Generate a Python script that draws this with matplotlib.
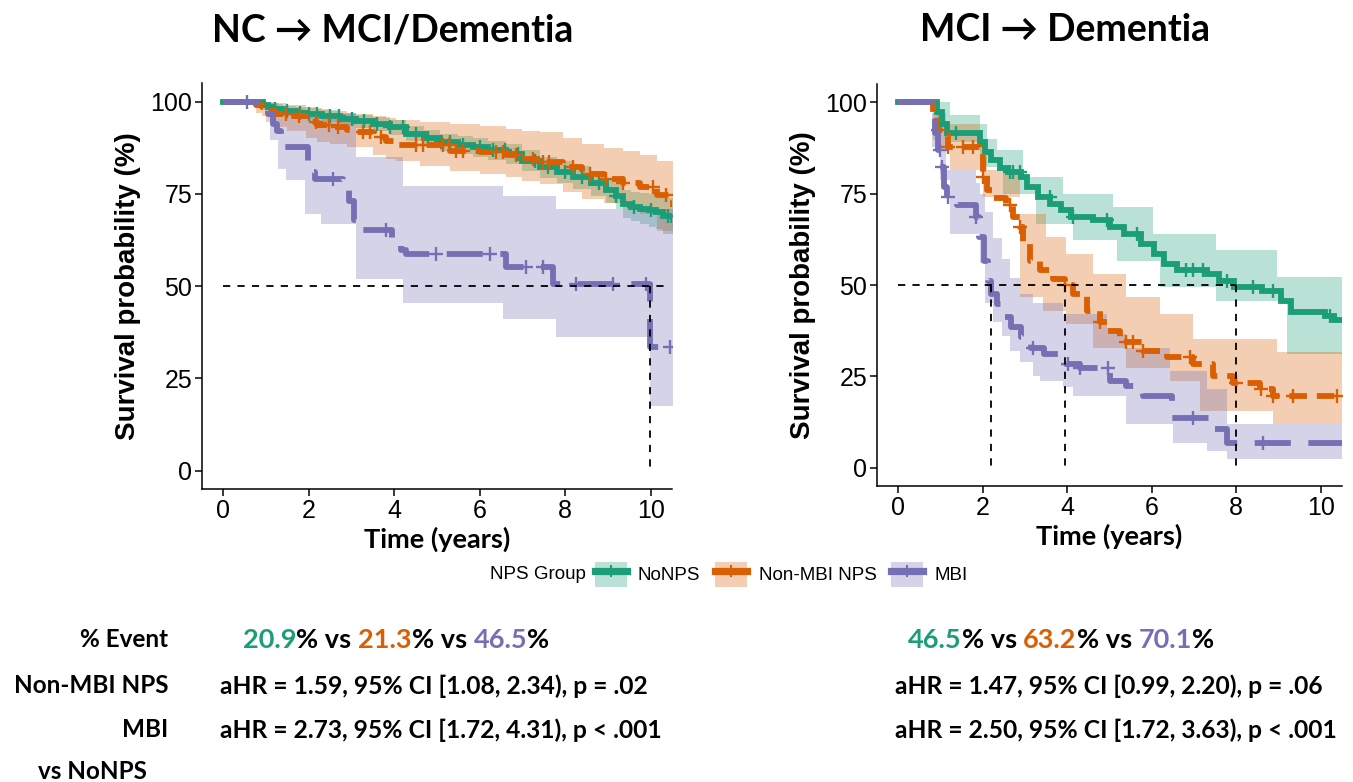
import matplotlib
matplotlib.use('Agg')
import matplotlib.pyplot as plt
from matplotlib.lines import Line2D
from matplotlib.patches import Patch
import numpy as np

GREEN, ORANGE, PURPLE = '#1B9E77', '#D95F02', '#7570B3'
groups = ['NoNPS', 'Non-MBI NPS', 'MBI']

# ---------------- NC -> MCI/Dementia ----------------
nc_nonps_t = [0, 0.92, 1.05, 1.16, 1.4, 1.7, 1.94, 2.3, 2.72, 3.1, 3.5, 3.9, 4.28, 4.7, 5.06,
              5.5, 5.84, 6.2, 6.62, 7.0, 7.4, 7.8, 8.18, 8.6, 8.96, 9.2, 9.35, 9.55, 9.74,
              9.95, 10.13, 10.3, 10.52]
nc_nonps_s = [100, 99, 98.5, 98, 97.5, 97, 96.7, 96, 95.3, 94.6, 94, 93, 91.3, 90, 89,
              88.3, 87.6, 86.8, 85.8, 84, 82.2, 81, 79.5, 77.8, 75.9, 74.5, 72.3, 71.5, 71,
              70.5, 70, 69, 67.8]
nc_nonps_lo = [100, 97.8, 97.2, 96.7, 96.1, 95.6, 95.2, 94.4, 93.6, 92.8, 92.1, 91, 89.2, 87.8, 86.7,
               85.9, 85.1, 84.2, 83.1, 81.2, 79.3, 78, 76.4, 74.5, 72.4, 70.9, 68.5, 67.5, 66.8,
               66.1, 65.4, 64, 62.5]
nc_nonps_hi = [100, 100, 99.6, 99.3, 98.9, 98.4, 98.2, 97.6, 97, 96.4, 95.9, 95, 93.4, 92.2, 91.3,
               90.7, 90.1, 89.4, 88.5, 86.8, 85.1, 84, 82.6, 81.1, 79.4, 78.1, 76.1, 75.5, 75.2,
               74.9, 74.6, 73.9, 73]
nc_nonps_cens = [1.2, 1.5, 1.8, 2.0, 2.2, 2.5, 2.7, 3.0, 3.3, 3.6, 3.9, 4.2, 4.5, 4.8, 5.1, 5.3,
                 5.6, 6.0, 6.3, 6.6, 6.9, 7.3, 7.6, 8.0, 8.4, 8.8, 9.2, 9.6, 10.0, 10.4]

nc_nmbi_t = [0, 0.77, 0.9, 1.0, 1.2, 1.5, 1.94, 2.2, 2.5, 2.9, 3.1, 3.5, 3.8, 4.05, 4.6, 5.3,
             6.0, 6.62, 7.0, 7.4, 7.95, 8.4, 8.9, 9.35, 9.74, 10.15, 10.52]
nc_nmbi_s = [100, 99, 98.5, 97.5, 96.7, 96.2, 94.4, 93.6, 93, 92.2, 91.7, 90.4, 89.2, 88.2, 88.1,
             86.7, 86.3, 85.4, 84.5, 83.6, 82.2, 80.4, 79.1, 78, 76.8, 74.6, 71.4]
nc_nmbi_lo = [100, 97, 96, 94.5, 93, 92, 90, 89, 88.5, 87.8, 87.6, 85.5, 84.5, 84, 82.5, 81.3,
              80.5, 79.5, 78.5, 77.7, 75.5, 73.7, 72.5, 71, 69.5, 65, 58.8]
nc_nmbi_hi = [100, 100, 100, 100, 99.5, 99, 98.5, 98, 97.5, 97, 96.7, 96, 95.5, 95, 94.5, 94,
              93.5, 92.5, 92, 91.7, 90, 88.5, 87.5, 86.7, 85.5, 84, 84]
nc_nmbi_cens = [1.47, 1.78, 2.17, 2.48, 2.68, 3.26, 3.42, 3.69, 4.51, 4.67, 5.14, 5.29, 5.45,
                5.6, 6.39, 6.54, 6.85, 7.24, 7.48, 7.63, 8.18, 8.57, 8.96, 9.35, 10.05, 10.37]

nc_mbi_t = [0, 1.05, 1.15, 1.25, 1.35, 1.98, 2.05, 2.15, 2.8, 2.95, 3.05, 3.1, 3.95, 4.05,
            4.15, 4.28, 6.62, 7.71, 9.98, 10.52]
nc_mbi_s = [100, 96.5, 94, 92, 87.6, 83, 81, 79, 76, 73, 68, 65.1, 62.4, 61, 59.8, 58.8,
            55.2, 50.5, 33.5, 33.5]
nc_mbi_ci_t = [0, 1.08, 1.27, 1.47, 1.9, 2.29, 3.1, 4.2, 6.54, 7.79, 9.98, 10.52]
nc_mbi_lo = [100, 89.5, 81.8, 78.8, 69.6, 66.7, 52, 45.5, 41.2, 36.1, 17.5, 17.5]
nc_mbi_hi = [100, 99.5, 98.5, 98, 97, 96.5, 85, 77, 74.3, 71, 71, 71]
nc_mbi_cens = [0.55, 2.56, 3.81, 4.98, 6.23, 7.09, 7.48, 8.26, 9.12, 9.9, 10.45]

nc_medians = [9.98]

# ---------------- MCI -> Dementia ----------------
mci_nonps_t = [0, 0.91, 1.03, 1.15, 1.93, 2.05, 2.2, 2.4, 2.6, 2.9, 3.05, 3.3, 3.6, 3.85, 4.1,
               4.6, 5.0, 5.35, 5.75, 6.05, 6.3, 6.6, 7.3, 7.6, 7.95, 8.6, 9.05, 9.3, 10.1,
               10.3, 10.49]
mci_nonps_s = [100, 97.4, 94.2, 91.5, 89.2, 86.5, 84.2, 81.9, 81, 79.6, 76.9, 74.1, 72.3, 70.4,
               68.6, 67.7, 65.9, 64, 61.3, 58.6, 55.8, 54, 53.1, 51.2, 49.4, 48.5, 45.7, 42.5,
               41.6, 40.3, 40.3]
mci_nonps_ci_t = [0, 0.91, 1.22, 1.93, 2.1, 2.33, 2.48, 2.96, 3.27, 3.9, 4.14, 5.09, 5.17, 6.03,
                  6.19, 7.53, 8.95, 9.19, 10.49]
mci_nonps_hi = [100, 100, 96.5, 94, 90, 86.9, 86.9, 79.6, 79.6, 75, 75, 71.4, 71.4, 64, 64,
                59.5, 52.1, 52.1, 52.1]
mci_nonps_lo = [100, 93.3, 89.2, 82.3, 82.3, 82.3, 75, 75, 66.8, 66.8, 62.2, 62.2, 56.7, 56.7,
                49.4, 45.7, 45.7, 31.1, 31.1]
mci_nonps_cens = [1.38, 2.64, 2.72, 2.88, 3.59, 4.14, 4.93, 5.64, 6.82, 6.98, 7.22, 7.77, 8.4,
                  8.87, 10.21]

mci_nmbi_t = [0, 0.83, 0.91, 1.05, 1.18, 1.93, 2.0, 2.09, 2.25, 2.56, 2.72, 2.88, 2.96, 3.12,
              3.35, 3.67, 3.94, 4.14, 4.46, 4.77, 4.93, 5.24, 5.8, 6.35, 6.98, 7.45, 7.93,
              8.56, 8.87, 10.49]
mci_nmbi_s = [100, 97, 92.4, 91, 87.8, 85, 79.6, 75.9, 73.7, 71.8, 68.6, 65.9, 61.3, 56.7, 54,
              51.7, 49.9, 47.6, 43, 39.8, 37.5, 34.3, 32, 30.2, 28.4, 25.2, 23.3, 21.5, 19.7,
              19.7]
mci_nmbi_ci_t = [0, 0.83, 0.97, 1.22, 1.93, 2.01, 2.09, 2.88, 3.43, 3.5, 3.98, 4.61, 5.4, 6.19,
                 6.43, 6.98, 7.14, 8.87, 8.95, 10.49]
mci_nmbi_hi = [100, 100, 94.2, 94.2, 87.8, 87.8, 81.4, 69.5, 69.5, 63.1, 58.6, 53.1, 46.7, 42.1,
               42.1, 35.2, 35.2, 35.2, 31.6, 31.6]
mci_nmbi_lo = [100, 89.7, 87.8, 81.4, 81.4, 74.1, 74.1, 46.7, 43, 43, 39.3, 32.9, 27.4, 27.4,
               23.8, 23.8, 15.6, 11.9, 11.9, 11.9]
mci_nmbi_cens = [0.95, 1.18, 1.54, 1.77, 2.01, 2.64, 2.88, 3.94, 4.77, 5.4, 5.56, 5.8, 6.9, 8.0,
                 8.59, 8.87, 9.35, 10.37]

mci_mbi_t = [0, 0.79, 0.87, 0.95, 1.0, 1.08, 1.16, 1.3, 1.4, 1.85, 1.91, 2.02, 2.12, 2.19,
             2.35, 2.5, 2.68, 2.9, 3.15, 3.45, 3.9, 3.98, 4.3, 5.0, 5.4, 5.8, 6.47, 7.41,
             7.77, 10.49]
mci_mbi_s = [100, 97, 91.5, 86.9, 82.3, 76.9, 74.1, 72.7, 71.8, 68.6, 63.1, 56.7, 51.2, 47.6,
             44.8, 41.2, 38.4, 35.7, 32.9, 31.1, 30.2, 28.4, 27.4, 23.8, 22.4, 19.7, 13.7, 10.5,
             6.9, 6.9]
mci_mbi_ci_t = [0, 0.79, 0.99, 1.14, 1.22, 1.85, 1.93, 2.05, 2.25, 2.45, 2.65, 2.88, 3.2, 3.35,
                3.9, 4.14, 4.93, 5.4, 6.43, 6.51, 7.3, 7.77, 10.49]
mci_mbi_hi = [100, 97, 97, 81.4, 81.4, 78, 75, 70, 63, 57, 52, 47.6, 45, 45, 42, 42, 36.6, 32.9,
              26.5, 26.5, 21.5, 11.9, 11.9]
mci_mbi_lo = [100, 87.8, 78.7, 78.7, 64, 64, 56, 45, 40, 36, 32, 29, 25, 23.8, 22, 19.7, 19.7,
              11.9, 11.9, 6.9, 4.6, 2.3, 2.3]
mci_mbi_cens = [0.99, 1.03, 1.18, 1.85, 3.19, 4.02, 4.3, 4.97, 6.98, 8.64]

mci_medians = [2.19, 3.95, 7.98]

# ---------------- bottom statistics ----------------
nc_event = [20.9, 21.3, 46.5]
mci_event = [46.5, 63.2, 70.1]
nc_ahr = ['aHR = 1.59, 95% CI [1.08, 2.34), p = .02',
          'aHR = 2.73, 95% CI [1.72, 4.31), p < .001']
mci_ahr = ['aHR = 1.47, 95% CI [0.99, 2.20), p = .06',
           'aHR = 2.50, 95% CI [1.72, 3.63), p < .001']
row_labels = ['% Event', 'Non-MBI NPS', 'MBI']

COLORS = [GREEN, ORANGE, PURPLE]
STYLES = ['-', (0, (3.0, 1.7)), (0, (6.2, 3.0))]
LW = 4.2
ARIAL = ['Liberation Sans', 'DejaVu Sans']
CALIBRI = ['Lato', 'DejaVu Sans']


def surv_at(t, s, times):
    idx = np.searchsorted(t, times, side='right') - 1
    return np.asarray(s)[idx]


def style_axes(ax):
    ax.set_xlim(-0.5, 10.5)
    ax.set_ylim(-5, 105)
    ax.set_xticks([0, 2, 4, 6, 8, 10])
    ax.set_yticks([0, 25, 50, 75, 100])
    for sp in ['top', 'right']:
        ax.spines[sp].set_visible(False)
    for sp in ['left', 'bottom']:
        ax.spines[sp].set_linewidth(1.1)
    ax.tick_params(labelsize=18, length=5, width=1.1, colors='black', pad=2)
    for lab in ax.get_xticklabels() + ax.get_yticklabels():
        lab.set_family(ARIAL)
    ax.set_xlabel('Time (years)', fontsize=19.5, fontweight='bold', family=CALIBRI,
                  labelpad=3)
    ax.set_ylabel('Survival probability (%)', fontsize=20, fontweight='bold', family=ARIAL,
                  labelpad=7)


def draw_panel(ax, curves, medians, hline_end):
    for t, s, ci_t, lo, hi, cens, c, ls in curves:
        ax.fill_between(ci_t, lo, hi, step='post', color=c, alpha=0.3, lw=0)
    for t, s, ci_t, lo, hi, cens, c, ls in curves:
        ax.step(t, s, where='post', color=c, lw=LW, linestyle=ls, dash_capstyle='butt',
                solid_joinstyle='miter')
        ax.plot(cens, surv_at(t, s, cens), '+', color=c, ms=10, mew=1.7, ls='none')
    dash = dict(color='black', lw=1.3, linestyle=(0, (4, 4)))
    ax.plot([0, hline_end], [50, 50], **dash)
    for m in medians:
        ax.plot([m, m], [50, 0], **dash)
    style_axes(ax)


fig = plt.figure(figsize=(13.53, 7.82), dpi=100)
ax1 = fig.add_axes([0.1493, 0.3747, 0.3474, 0.519])
ax2 = fig.add_axes([0.6482, 0.3785, 0.3437, 0.514])

nc_curves = [
    (nc_nonps_t, nc_nonps_s, nc_nonps_t, nc_nonps_lo, nc_nonps_hi, nc_nonps_cens, GREEN, STYLES[0]),
    (nc_nmbi_t, nc_nmbi_s, nc_nmbi_t, nc_nmbi_lo, nc_nmbi_hi, nc_nmbi_cens, ORANGE, STYLES[1]),
    (nc_mbi_t, nc_mbi_s, nc_mbi_ci_t, nc_mbi_lo, nc_mbi_hi, nc_mbi_cens, PURPLE, STYLES[2]),
]
mci_curves = [
    (mci_nonps_t, mci_nonps_s, mci_nonps_ci_t, mci_nonps_lo, mci_nonps_hi, mci_nonps_cens, GREEN, STYLES[0]),
    (mci_nmbi_t, mci_nmbi_s, mci_nmbi_ci_t, mci_nmbi_lo, mci_nmbi_hi, mci_nmbi_cens, ORANGE, STYLES[1]),
    (mci_mbi_t, mci_mbi_s, mci_mbi_ci_t, mci_mbi_lo, mci_mbi_hi, mci_mbi_cens, PURPLE, STYLES[2]),
]
draw_panel(ax1, nc_curves, nc_medians, 10.45)
draw_panel(ax2, mci_curves, mci_medians, 8.0)

# titles
TFONT = dict(family=CALIBRI, fontweight='bold', fontsize=27)
fig.text(0.2905, 0.9616, 'NC \u2192 MCI/Dementia', ha='center', va='center', **TFONT)
fig.text(0.787, 0.9616, 'MCI \u2192 Dementia', ha='center', va='center', **TFONT)

# legend
handles = [(Patch(facecolor=c, alpha=0.3, edgecolor='none'),
            Line2D([], [], color=c, lw=LW + 1, marker='+', ms=8, mew=1.5))
           for c in COLORS]
fig.legend(handles, groups, ncol=3, loc='center', bbox_to_anchor=(0.5775, 0.2655),
           frameon=False, prop={'family': ARIAL, 'size': 13.5}, handlelength=1.7,
           handleheight=1.7, columnspacing=0.8, handletextpad=0.6)
fig.text(0.3622, 0.2655, 'NPS Group', fontsize=13.5, family=ARIAL, ha='left', va='center')

# bottom statistics
BFONT = dict(family=CALIBRI, fontweight='bold', fontsize=17.7)
LFONT = dict(family=CALIBRI, fontweight='bold', fontsize=17.5)
EFONT = dict(family=CALIBRI, fontweight='bold', fontsize=19.5)


def colored_row(x, y, vals):
    parts = []
    for i, (v, c) in enumerate(zip(vals, COLORS)):
        parts.append((f'{v}', c))
        parts.append(('% vs ' if i < 2 else '%', 'black'))
    txt = ax1.annotate(parts[0][0], xy=(x, y), xycoords='figure fraction', ha='left',
                       va='center', color=parts[0][1], annotation_clip=False, **EFONT)
    for s, c in parts[1:]:
        txt = ax1.annotate(s, xy=(1, 0.5), xycoords=txt, ha='left', va='center', color=c,
                           annotation_clip=False, **EFONT)


row_y = [0.1816, 0.1228, 0.0665]
for lab, y in zip(row_labels, row_y):
    fig.text(0.1242, y, lab, ha='right', va='center', **LFONT)
fig.text(0.028, 0.0128, 'vs NoNPS', ha='left', va='center', **LFONT)

colored_row(0.1796, row_y[0], nc_event)
colored_row(0.6711, row_y[0], mci_event)
for s, y in zip(nc_ahr, row_y[1:]):
    fig.text(0.1626, y, s, ha='left', va='center', **BFONT)
for s, y in zip(mci_ahr, row_y[1:]):
    fig.text(0.6615, y, s, ha='left', va='center', **BFONT)

fig.savefig('out.png', dpi=100, facecolor='white')
